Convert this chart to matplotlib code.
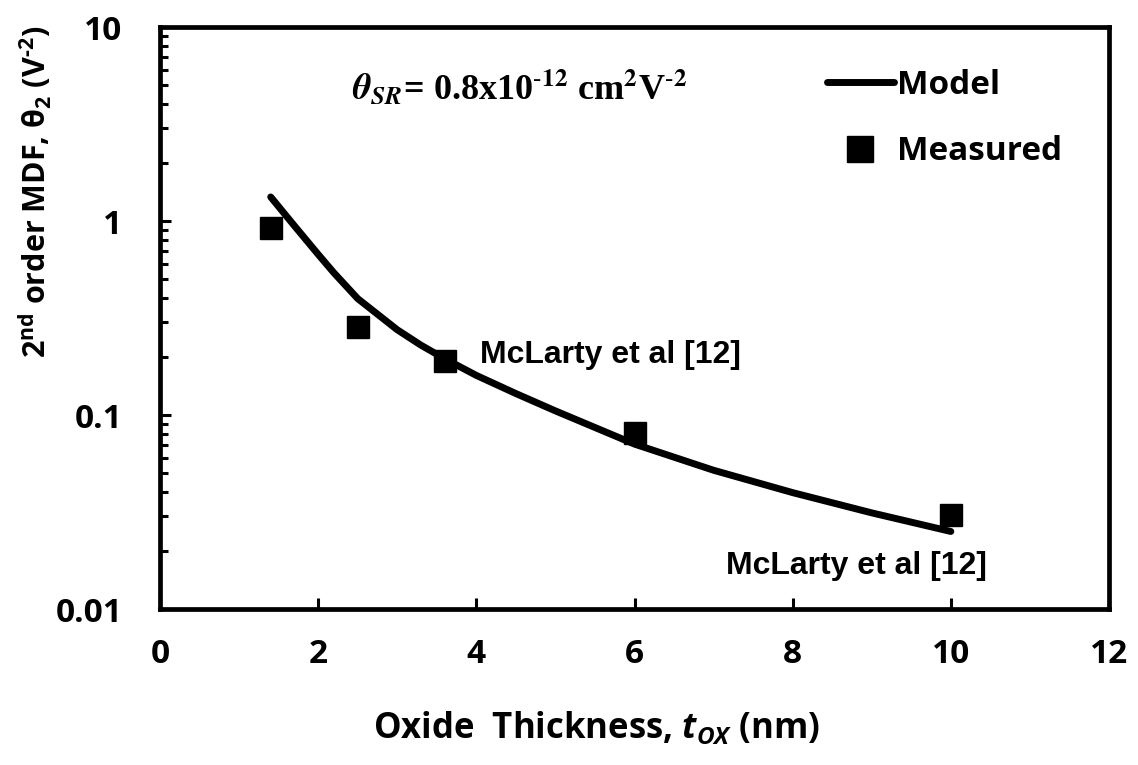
import matplotlib.pyplot as plt
from matplotlib.ticker import FixedLocator, FixedFormatter, LogLocator, NullFormatter

# model curve, theta_2 vs oxide thickness
model_tox = [1.4, 1.7, 2.0, 2.2, 2.5, 3.0, 3.3, 3.6, 4.0, 4.5, 5.0, 6.0, 7.0, 8.0, 9.0, 10.0]
model_theta2 = [1.33, 0.944, 0.673, 0.540, 0.398, 0.275, 0.229, 0.195, 0.160, 0.129,
                0.105, 0.0708, 0.0519, 0.0398, 0.0313, 0.0251]

# measured points
meas_tox = [1.4, 2.5, 3.6, 6.0, 10.0]
meas_theta2 = [0.92, 0.284, 0.19, 0.081, 0.0305]

xticks = [0, 2, 4, 6, 8, 10, 12]
yticks = [0.01, 0.1, 1, 10]
ytick_labels = ['0.01', '0.1', '1', '10']

plt.rcParams['mathtext.fontset'] = 'custom'
plt.rcParams['mathtext.rm'] = 'Open Sans:bold'
plt.rcParams['mathtext.bf'] = 'Open Sans:bold'
plt.rcParams['mathtext.it'] = 'Open Sans:italic:bold'

fig = plt.figure(figsize=(11.38, 7.65), dpi=100)
ax = fig.add_axes([160/1138, 1-609/765, (1109-160)/1138, (609-27)/765])

ax.plot(model_tox, model_theta2, color='black', lw=5, solid_capstyle='round',
        solid_joinstyle='round', label='Model')
ax.plot(meas_tox, meas_theta2, ls='none', marker='s', ms=16.5, color='black', label='Measured')

ax.set_yscale('log')
ax.set_xlim(0, 12)
ax.set_ylim(0.01, 10)

ax.xaxis.set_major_locator(FixedLocator(xticks))
ax.yaxis.set_major_locator(FixedLocator(yticks))
ax.yaxis.set_major_formatter(FixedFormatter(ytick_labels))
ax.yaxis.set_minor_locator(LogLocator(base=10, subs=range(2, 10)))
ax.yaxis.set_minor_formatter(NullFormatter())

for s in ax.spines.values():
    s.set_linewidth(3.4)

ax.tick_params(axis='both', which='major', direction='in', length=8, width=2.2,
               labelsize=24, top=False, right=False)
ax.tick_params(axis='y', which='minor', direction='in', length=6, width=2.2, right=False)
ax.tick_params(axis='y', which='major', pad=27)
ax.tick_params(axis='x', which='major', pad=21)
for lab in ax.get_xticklabels() + ax.get_yticklabels():
    lab.set_fontfamily('Open Sans')
    lab.set_fontweight('bold')

fig.text(35/1138, 1-192/765,
         r'$\mathregular{2^{nd}}$ order MDF, $\mathregular{\theta_2}$ (V$^{\text{-}2}$)',
         rotation=90, ha='center', va='center', fontsize=22,
         fontfamily='Open Sans', fontweight='bold')
fig.text(596/1138, 1-728/765, r'Oxide  Thickness, $\mathit{t_{OX}}$ (nm)',
         ha='center', va='center', fontsize=25, fontfamily='Open Sans', fontweight='bold')

fig.text(352/1138, 1-88/765,
         r'$\mathbfit{\theta_{SR}}$= 0.8x10$^{\mathbf{\text{-}12}}$ cm$^{\mathbf{2}}$V$^{\mathbf{\text{-}2}}$',
         fontsize=26, fontfamily='Liberation Serif', fontweight='bold',
         math_fontfamily='stix', ha='left', va='center')

ax.text(4.05, 0.204, 'McLarty et al [12]', fontsize=23, fontfamily='Liberation Sans',
        fontweight='bold', ha='left', va='center')
ax.text(8.81, 0.0167, 'McLarty et al [12]', fontsize=23, fontfamily='Liberation Sans',
        fontweight='bold', ha='center', va='center')

ax.legend(loc='upper left', bbox_to_anchor=((827-160)/949, 0.928), frameon=False,
          prop={'family': 'Open Sans', 'weight': 'bold', 'size': 24},
          handlelength=2.0, handletextpad=0.1, labelspacing=1.0, borderpad=0,
          borderaxespad=0, markerscale=1.1)

fig.savefig('out.png', dpi=100)
